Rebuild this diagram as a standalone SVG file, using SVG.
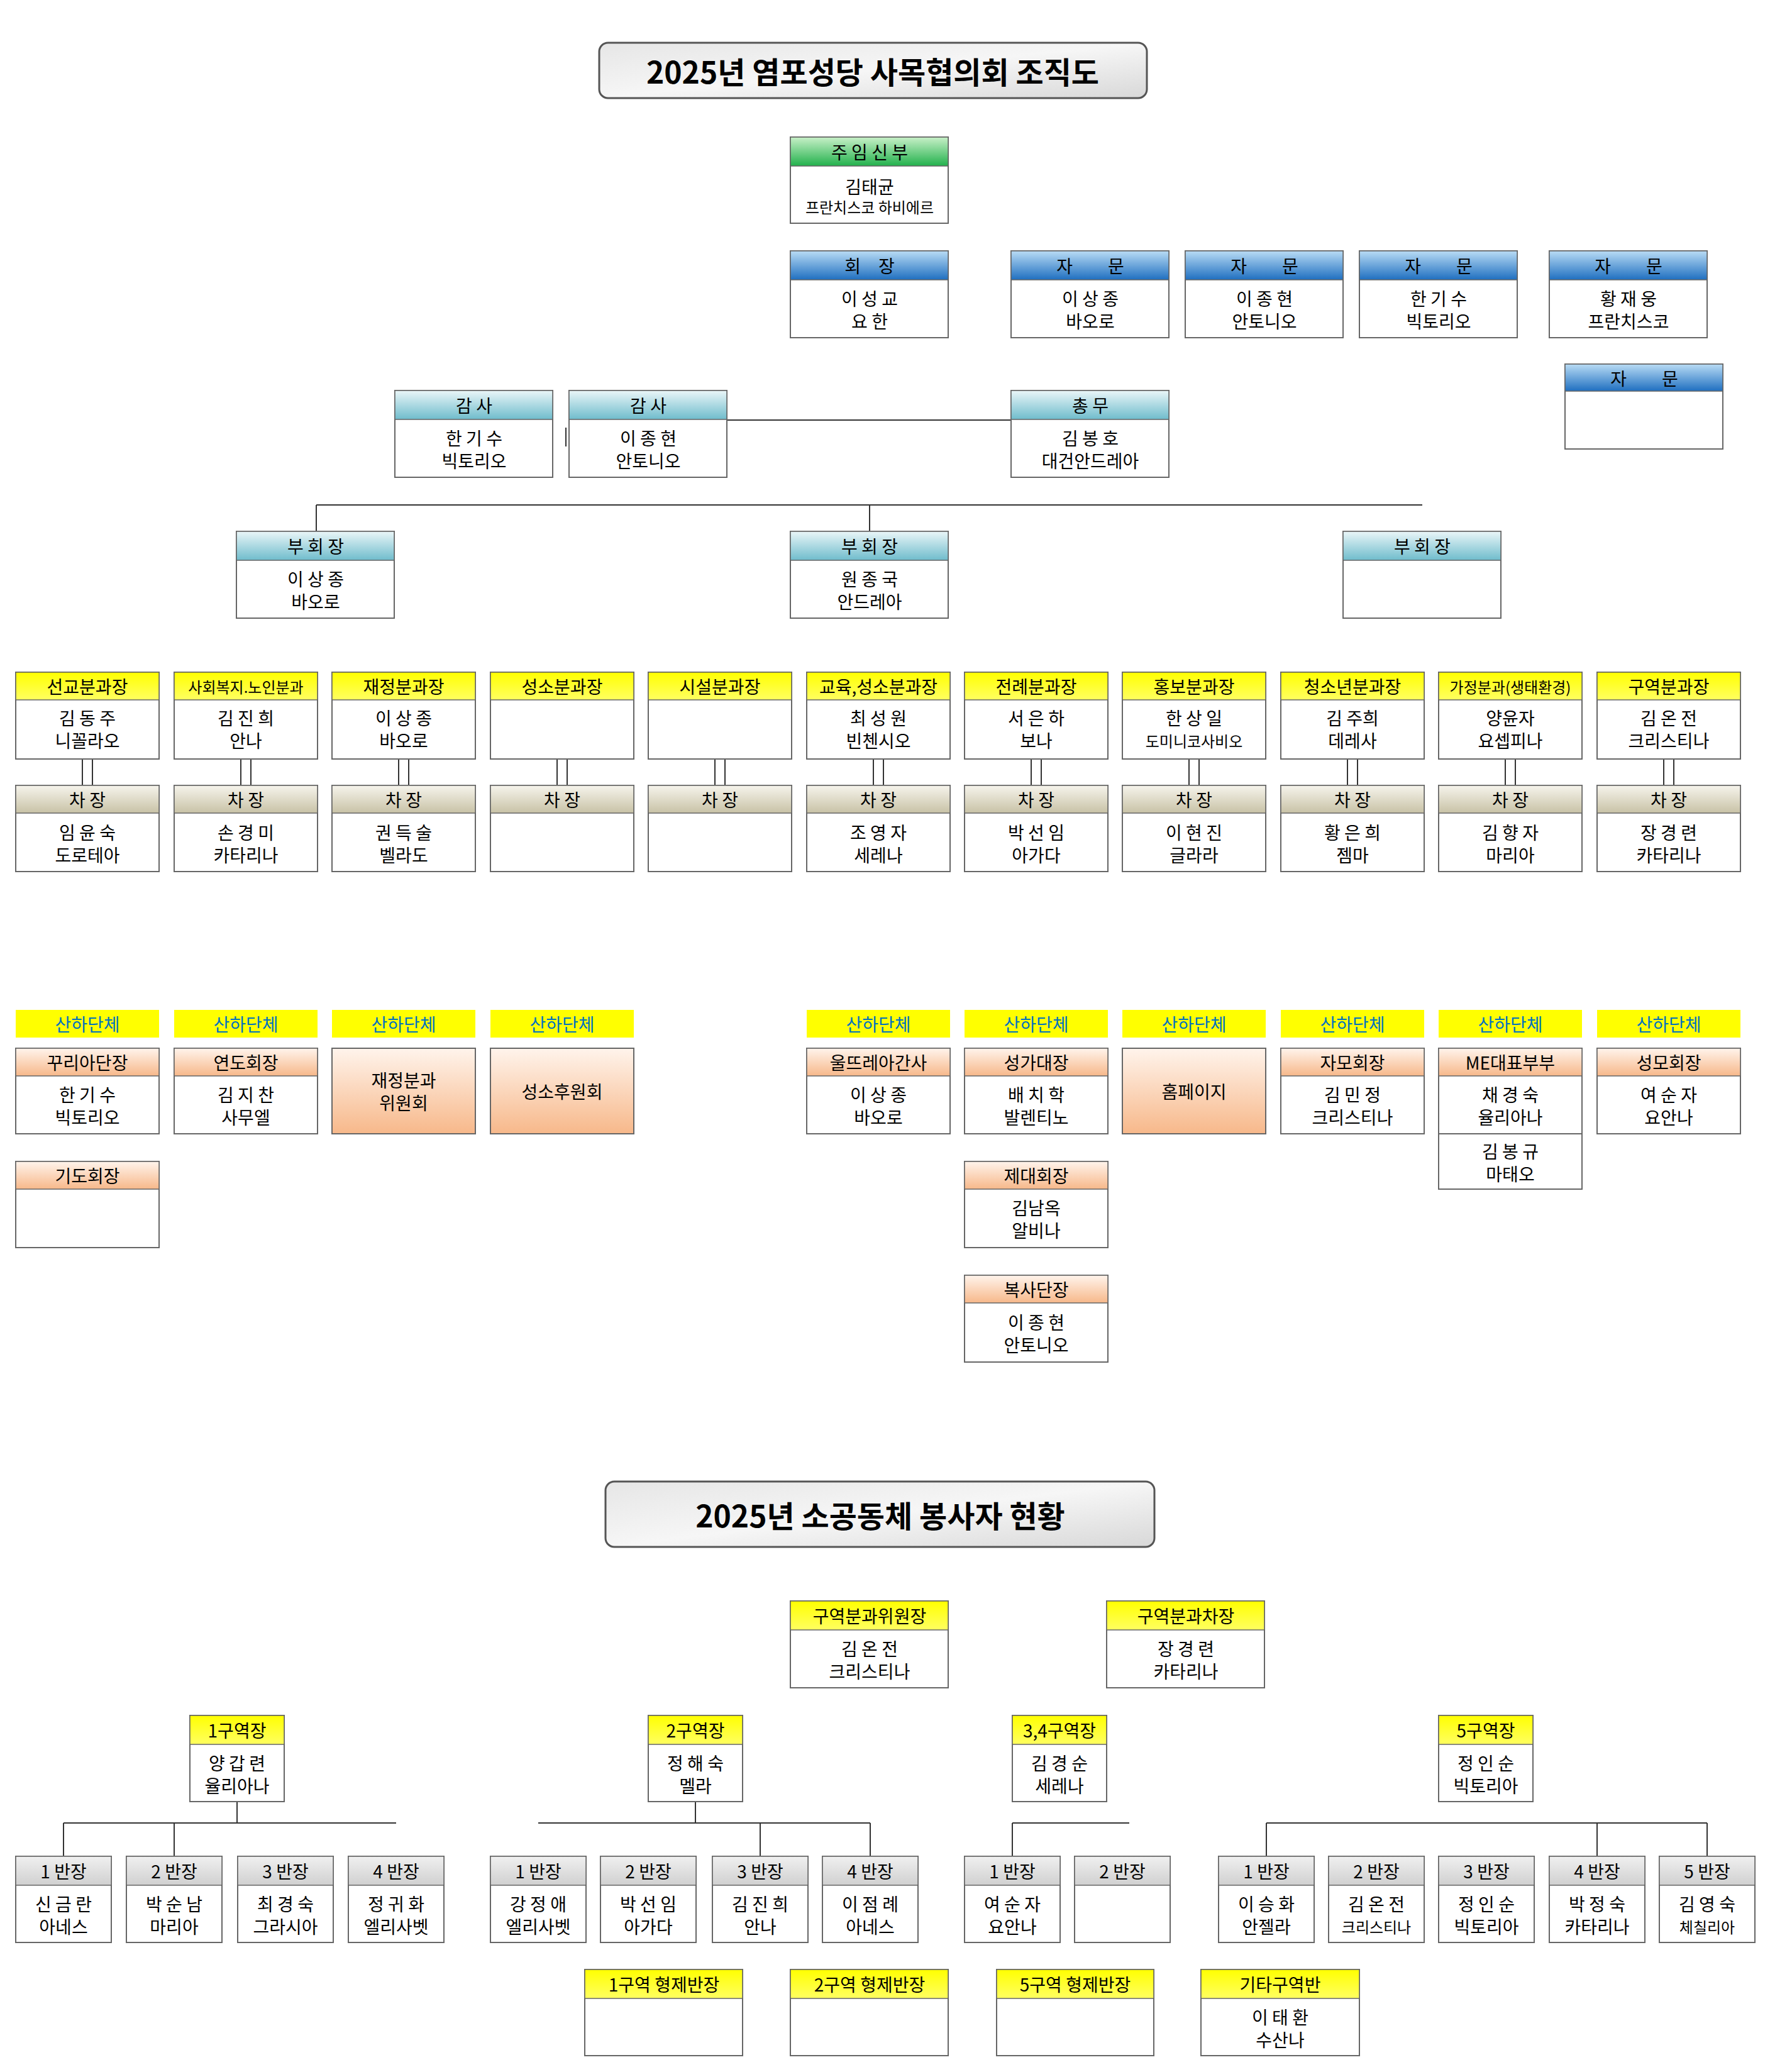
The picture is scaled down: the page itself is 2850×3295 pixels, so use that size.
<svg xmlns="http://www.w3.org/2000/svg" width="2850" height="3295" viewBox="0 0 2850 3295">
<defs>
<linearGradient id="gG" x1="0" y1="0" x2="0" y2="1"><stop offset="0" stop-color="#c8f0c8"/><stop offset="1" stop-color="#22b14c"/></linearGradient>
<linearGradient id="gB" x1="0" y1="0" x2="0" y2="1"><stop offset="0" stop-color="#b9dcf5"/><stop offset="1" stop-color="#1f6fc0"/></linearGradient>
<linearGradient id="gT" x1="0" y1="0" x2="0" y2="1"><stop offset="0" stop-color="#eaf6f8"/><stop offset="1" stop-color="#6fbccc"/></linearGradient>
<linearGradient id="gY" x1="0" y1="0" x2="0" y2="1"><stop offset="0" stop-color="#ffff00"/><stop offset="1" stop-color="#ffff60"/></linearGradient>
<linearGradient id="gS" x1="0" y1="0" x2="0" y2="1"><stop offset="0" stop-color="#f6f4ec"/><stop offset="1" stop-color="#c8c2a6"/></linearGradient>
<linearGradient id="gP" x1="0" y1="0" x2="0" y2="1"><stop offset="0" stop-color="#fff4ec"/><stop offset="1" stop-color="#f7b88a"/></linearGradient>
<linearGradient id="gR" x1="0" y1="0" x2="0" y2="1"><stop offset="0" stop-color="#f0f0f0"/><stop offset="1" stop-color="#d0d0d0"/></linearGradient>
<linearGradient id="gTi" x1="0" y1="0" x2="1" y2="1"><stop offset="0" stop-color="#e6e6e6"/><stop offset="0.5" stop-color="#f6f6f6"/><stop offset="1" stop-color="#d8d8d8"/></linearGradient>
</defs>
<style>
text{font-family:"Noto Sans CJK KR","Noto Sans",sans-serif;font-size:28px;text-anchor:middle;dominant-baseline:central;fill:#000}
.b{fill:#fff;stroke:#666;stroke-width:2}
.h{stroke:#666;stroke-width:1.5}
.sm{font-size:24px}
.ti{font-size:48px;font-weight:bold}
.lab{fill:#0070c0}
.c{stroke:#333;stroke-width:2;fill:none}
</style>
<g id="title1"><rect x="953" y="68" width="871" height="88" rx="14" fill="url(#gTi)" stroke="#555" stroke-width="3"/><text class="ti" x="1388" y="112">2025년 염포성당 사목협의회 조직도</text></g>
<g id="title2"><rect x="963" y="2356" width="873" height="104" rx="14" fill="url(#gTi)" stroke="#555" stroke-width="3"/><text class="ti" x="1400" y="2408">2025년 소공동체 봉사자 현황</text></g>

<g id="connectors">
<path class="c" d="M1157 668H1610"/>
<path class="c" d="M900 680V710"/>
<path class="c" d="M503 803H2262M503 803V845M1383 803V845"/>
<g id="dbl">
<path class="c" d="M131 1207V1249M147 1207V1249M383 1207V1249M399 1207V1249M634 1207V1249M650 1207V1249M886 1207V1249M902 1207V1249M1137 1207V1249M1153 1207V1249M1389 1207V1249M1405 1207V1249M1640 1207V1249M1656 1207V1249M1891 1207V1249M1907 1207V1249M2143 1207V1249M2159 1207V1249M2394 1207V1249M2410 1207V1249M2646 1207V1249M2662 1207V1249"/>
</g>
<path class="c" d="M377 2865V2899M101 2899H630M101 2899V2952M277 2899V2952"/>
<path class="c" d="M1106 2865V2899M856 2899H1384M1209 2899V2952M1384 2899V2952"/>
<path class="c" d="M1610 2899H1796M1610 2899V2952"/>
<path class="c" d="M2014 2899H2715M2014 2899V2952M2540 2899V2952M2715 2899V2952"/>
</g>

<g id="n-priest"><rect class="b" x="1257" y="218" width="251" height="137"/><rect class="h" x="1257" y="218" width="251" height="46" fill="url(#gG)"/><text x="1383" y="241">주 임 신 부</text><text x="1383" y="296">김태균</text><text class="sm" x="1383" y="328">프란치스코 하비에르</text></g>
<g id="n-pres"><rect class="b" x="1257" y="399" width="251" height="138"/><rect class="h" x="1257" y="399" width="251" height="46" fill="url(#gB)"/><text x="1383" y="422">회　장</text><text x="1383" y="474">이 성 교</text><text x="1383" y="510">요 한</text></g>
<g id="n-adv1"><rect class="b" x="1608" y="399" width="251" height="138"/><rect class="h" x="1608" y="399" width="251" height="46" fill="url(#gB)"/><text x="1734" y="422">자　　문</text><text x="1734" y="474">이 상 종</text><text x="1734" y="510">바오로</text></g>
<g id="n-adv2"><rect class="b" x="1885" y="399" width="251" height="138"/><rect class="h" x="1885" y="399" width="251" height="46" fill="url(#gB)"/><text x="2011" y="422">자　　문</text><text x="2011" y="474">이 종 현</text><text x="2011" y="510">안토니오</text></g>
<g id="n-adv3"><rect class="b" x="2162" y="399" width="251" height="138"/><rect class="h" x="2162" y="399" width="251" height="46" fill="url(#gB)"/><text x="2288" y="422">자　　문</text><text x="2288" y="474">한 기 수</text><text x="2288" y="510">빅토리오</text></g>
<g id="n-adv4"><rect class="b" x="2464" y="399" width="251" height="138"/><rect class="h" x="2464" y="399" width="251" height="46" fill="url(#gB)"/><text x="2590" y="422">자　　문</text><text x="2590" y="474">황 재 웅</text><text x="2590" y="510">프란치스코</text></g>
<g id="n-adv5"><rect class="b" x="2489" y="579" width="251" height="135"/><rect class="h" x="2489" y="579" width="251" height="43" fill="url(#gB)"/><text x="2615" y="601">자　　문</text></g>
<g id="n-aud1"><rect class="b" x="628" y="621" width="251" height="138"/><rect class="h" x="628" y="621" width="251" height="46" fill="url(#gT)"/><text x="754" y="644">감 사</text><text x="754" y="696">한 기 수</text><text x="754" y="732">빅토리오</text></g>
<g id="n-aud2"><rect class="b" x="905" y="621" width="251" height="138"/><rect class="h" x="905" y="621" width="251" height="46" fill="url(#gT)"/><text x="1031" y="644">감 사</text><text x="1031" y="696">이 종 현</text><text x="1031" y="732">안토니오</text></g>
<g id="n-gen"><rect class="b" x="1608" y="621" width="251" height="138"/><rect class="h" x="1608" y="621" width="251" height="46" fill="url(#gT)"/><text x="1734" y="644">총 무</text><text x="1734" y="696">김 봉 호</text><text x="1734" y="732">대건안드레아</text></g>
<g id="n-vp1"><rect class="b" x="376" y="845" width="251" height="138"/><rect class="h" x="376" y="845" width="251" height="46" fill="url(#gT)"/><text x="502" y="868">부 회 장</text><text x="502" y="920">이 상 종</text><text x="502" y="956">바오로</text></g>
<g id="n-vp2"><rect class="b" x="1257" y="845" width="251" height="138"/><rect class="h" x="1257" y="845" width="251" height="46" fill="url(#gT)"/><text x="1383" y="868">부 회 장</text><text x="1383" y="920">원 종 국</text><text x="1383" y="956">안드레아</text></g>
<g id="n-vp3"><rect class="b" x="2136" y="845" width="251" height="138"/><rect class="h" x="2136" y="845" width="251" height="46" fill="url(#gT)"/><text x="2262" y="868">부 회 장</text></g>

<g id="n-d1"><rect class="b" x="25" y="1069" width="228" height="138"/><rect class="h" x="25" y="1069" width="228" height="44" fill="url(#gY)"/><text x="139" y="1091">선교분과장</text><text x="139" y="1141">김 동 주</text><text x="139" y="1177">니꼴라오</text></g>
<g id="n-d2"><rect class="b" x="277" y="1069" width="228" height="138"/><rect class="h" x="277" y="1069" width="228" height="44" fill="url(#gY)"/><text class="sm" x="391" y="1091">사회복지.노인분과</text><text x="391" y="1141">김 진 희</text><text x="391" y="1177">안나</text></g>
<g id="n-d3"><rect class="b" x="528" y="1069" width="228" height="138"/><rect class="h" x="528" y="1069" width="228" height="44" fill="url(#gY)"/><text x="642" y="1091">재정분과장</text><text x="642" y="1141">이 상 종</text><text x="642" y="1177">바오로</text></g>
<g id="n-d4"><rect class="b" x="780" y="1069" width="228" height="138"/><rect class="h" x="780" y="1069" width="228" height="44" fill="url(#gY)"/><text x="894" y="1091">성소분과장</text></g>
<g id="n-d5"><rect class="b" x="1031" y="1069" width="228" height="138"/><rect class="h" x="1031" y="1069" width="228" height="44" fill="url(#gY)"/><text x="1145" y="1091">시설분과장</text></g>
<g id="n-d6"><rect class="b" x="1283" y="1069" width="228" height="138"/><rect class="h" x="1283" y="1069" width="228" height="44" fill="url(#gY)"/><text x="1397" y="1091">교육,성소분과장</text><text x="1397" y="1141">최 성 원</text><text x="1397" y="1177">빈첸시오</text></g>
<g id="n-d7"><rect class="b" x="1534" y="1069" width="228" height="138"/><rect class="h" x="1534" y="1069" width="228" height="44" fill="url(#gY)"/><text x="1648" y="1091">전례분과장</text><text x="1648" y="1141">서 은 하</text><text x="1648" y="1177">보나</text></g>
<g id="n-d8"><rect class="b" x="1785" y="1069" width="228" height="138"/><rect class="h" x="1785" y="1069" width="228" height="44" fill="url(#gY)"/><text x="1899" y="1091">홍보분과장</text><text x="1899" y="1141">한 상 일</text><text class="sm" x="1899" y="1177">도미니코사비오</text></g>
<g id="n-d9"><rect class="b" x="2037" y="1069" width="228" height="138"/><rect class="h" x="2037" y="1069" width="228" height="44" fill="url(#gY)"/><text x="2151" y="1091">청소년분과장</text><text x="2151" y="1141">김 주희</text><text x="2151" y="1177">데레사</text></g>
<g id="n-d10"><rect class="b" x="2288" y="1069" width="228" height="138"/><rect class="h" x="2288" y="1069" width="228" height="44" fill="url(#gY)"/><text class="sm" x="2402" y="1091">가정분과(생태환경)</text><text x="2402" y="1141">양윤자</text><text x="2402" y="1177">요셉피나</text></g>
<g id="n-d11"><rect class="b" x="2540" y="1069" width="228" height="138"/><rect class="h" x="2540" y="1069" width="228" height="44" fill="url(#gY)"/><text x="2654" y="1091">구역분과장</text><text x="2654" y="1141">김 온 전</text><text x="2654" y="1177">크리스티나</text></g>

<g id="n-v1"><rect class="b" x="25" y="1249" width="228" height="137"/><rect class="h" x="25" y="1249" width="228" height="44" fill="url(#gS)"/><text x="139" y="1271">차 장</text><text x="139" y="1323">임 윤 숙</text><text x="139" y="1359">도로테아</text></g>
<g id="n-v2"><rect class="b" x="277" y="1249" width="228" height="137"/><rect class="h" x="277" y="1249" width="228" height="44" fill="url(#gS)"/><text x="391" y="1271">차 장</text><text x="391" y="1323">손 경 미</text><text x="391" y="1359">카타리나</text></g>
<g id="n-v3"><rect class="b" x="528" y="1249" width="228" height="137"/><rect class="h" x="528" y="1249" width="228" height="44" fill="url(#gS)"/><text x="642" y="1271">차 장</text><text x="642" y="1323">권 득 술</text><text x="642" y="1359">벨라도</text></g>
<g id="n-v4"><rect class="b" x="780" y="1249" width="228" height="137"/><rect class="h" x="780" y="1249" width="228" height="44" fill="url(#gS)"/><text x="894" y="1271">차 장</text></g>
<g id="n-v5"><rect class="b" x="1031" y="1249" width="228" height="137"/><rect class="h" x="1031" y="1249" width="228" height="44" fill="url(#gS)"/><text x="1145" y="1271">차 장</text></g>
<g id="n-v6"><rect class="b" x="1283" y="1249" width="228" height="137"/><rect class="h" x="1283" y="1249" width="228" height="44" fill="url(#gS)"/><text x="1397" y="1271">차 장</text><text x="1397" y="1323">조 영 자</text><text x="1397" y="1359">세레나</text></g>
<g id="n-v7"><rect class="b" x="1534" y="1249" width="228" height="137"/><rect class="h" x="1534" y="1249" width="228" height="44" fill="url(#gS)"/><text x="1648" y="1271">차 장</text><text x="1648" y="1323">박 선 임</text><text x="1648" y="1359">아가다</text></g>
<g id="n-v8"><rect class="b" x="1785" y="1249" width="228" height="137"/><rect class="h" x="1785" y="1249" width="228" height="44" fill="url(#gS)"/><text x="1899" y="1271">차 장</text><text x="1899" y="1323">이 현 진</text><text x="1899" y="1359">글라라</text></g>
<g id="n-v9"><rect class="b" x="2037" y="1249" width="228" height="137"/><rect class="h" x="2037" y="1249" width="228" height="44" fill="url(#gS)"/><text x="2151" y="1271">차 장</text><text x="2151" y="1323">황 은 희</text><text x="2151" y="1359">젬마</text></g>
<g id="n-v10"><rect class="b" x="2288" y="1249" width="228" height="137"/><rect class="h" x="2288" y="1249" width="228" height="44" fill="url(#gS)"/><text x="2402" y="1271">차 장</text><text x="2402" y="1323">김 향 자</text><text x="2402" y="1359">마리아</text></g>
<g id="n-v11"><rect class="b" x="2540" y="1249" width="228" height="137"/><rect class="h" x="2540" y="1249" width="228" height="44" fill="url(#gS)"/><text x="2654" y="1271">차 장</text><text x="2654" y="1323">장 경 련</text><text x="2654" y="1359">카타리나</text></g>

<g id="labels">
<rect x="25" y="1606" width="228" height="44" fill="#ffff00"/><text class="lab" x="139" y="1628">산하단체</text>
<rect x="277" y="1606" width="228" height="44" fill="#ffff00"/><text class="lab" x="391" y="1628">산하단체</text>
<rect x="528" y="1606" width="228" height="44" fill="#ffff00"/><text class="lab" x="642" y="1628">산하단체</text>
<rect x="780" y="1606" width="228" height="44" fill="#ffff00"/><text class="lab" x="894" y="1628">산하단체</text>
<rect x="1283" y="1606" width="228" height="44" fill="#ffff00"/><text class="lab" x="1397" y="1628">산하단체</text>
<rect x="1534" y="1606" width="228" height="44" fill="#ffff00"/><text class="lab" x="1648" y="1628">산하단체</text>
<rect x="1785" y="1606" width="228" height="44" fill="#ffff00"/><text class="lab" x="1899" y="1628">산하단체</text>
<rect x="2037" y="1606" width="228" height="44" fill="#ffff00"/><text class="lab" x="2151" y="1628">산하단체</text>
<rect x="2288" y="1606" width="228" height="44" fill="#ffff00"/><text class="lab" x="2402" y="1628">산하단체</text>
<rect x="2540" y="1606" width="228" height="44" fill="#ffff00"/><text class="lab" x="2654" y="1628">산하단체</text>
</g>

<g id="n-s1"><rect class="b" x="25" y="1667" width="228" height="136"/><rect class="h" x="25" y="1667" width="228" height="44" fill="url(#gP)"/><text x="139" y="1689">꾸리아단장</text><text x="139" y="1740">한 기 수</text><text x="139" y="1776">빅토리오</text></g>
<g id="n-s2"><rect class="b" x="277" y="1667" width="228" height="136"/><rect class="h" x="277" y="1667" width="228" height="44" fill="url(#gP)"/><text x="391" y="1689">연도회장</text><text x="391" y="1740">김 지 찬</text><text x="391" y="1776">사무엘</text></g>
<g id="n-s3"><rect class="b" x="528" y="1667" width="228" height="136" fill="url(#gP)" style="fill:url(#gP)"/><text x="642" y="1717">재정분과</text><text x="642" y="1753">위원회</text></g>
<g id="n-s4"><rect class="b" x="780" y="1667" width="228" height="136" style="fill:url(#gP)"/><text x="894" y="1735">성소후원회</text></g>
<g id="n-s6"><rect class="b" x="1283" y="1667" width="228" height="136"/><rect class="h" x="1283" y="1667" width="228" height="44" fill="url(#gP)"/><text x="1397" y="1689">울뜨레아간사</text><text x="1397" y="1740">이 상 종</text><text x="1397" y="1776">바오로</text></g>
<g id="n-s7"><rect class="b" x="1534" y="1667" width="228" height="136"/><rect class="h" x="1534" y="1667" width="228" height="44" fill="url(#gP)"/><text x="1648" y="1689">성가대장</text><text x="1648" y="1740">배 치 학</text><text x="1648" y="1776">발렌티노</text></g>
<g id="n-s8"><rect class="b" x="1785" y="1667" width="228" height="136" style="fill:url(#gP)"/><text x="1899" y="1735">홈페이지</text></g>
<g id="n-s9"><rect class="b" x="2037" y="1667" width="228" height="136"/><rect class="h" x="2037" y="1667" width="228" height="44" fill="url(#gP)"/><text x="2151" y="1689">자모회장</text><text x="2151" y="1740">김 민 정</text><text x="2151" y="1776">크리스티나</text></g>
<g id="n-s10"><rect class="b" x="2288" y="1667" width="228" height="136"/><rect class="h" x="2288" y="1667" width="228" height="44" fill="url(#gP)"/><text x="2402" y="1689">ME대표부부</text><text x="2402" y="1740">채 경 숙</text><text x="2402" y="1776">율리아나</text></g>
<g id="n-s10b"><rect class="b" x="2288" y="1803" width="228" height="88"/><text x="2402" y="1830">김 봉 규</text><text x="2402" y="1866">마태오</text></g>
<g id="n-s11"><rect class="b" x="2540" y="1667" width="228" height="136"/><rect class="h" x="2540" y="1667" width="228" height="44" fill="url(#gP)"/><text x="2654" y="1689">성모회장</text><text x="2654" y="1740">여 순 자</text><text x="2654" y="1776">요안나</text></g>
<g id="n-s1b"><rect class="b" x="25" y="1847" width="228" height="137"/><rect class="h" x="25" y="1847" width="228" height="44" fill="url(#gP)"/><text x="139" y="1869">기도회장</text></g>
<g id="n-s7b"><rect class="b" x="1534" y="1847" width="228" height="137"/><rect class="h" x="1534" y="1847" width="228" height="44" fill="url(#gP)"/><text x="1648" y="1869">제대회장</text><text x="1648" y="1920">김남옥</text><text x="1648" y="1956">알비나</text></g>
<g id="n-s7c"><rect class="b" x="1534" y="2028" width="228" height="138"/><rect class="h" x="1534" y="2028" width="228" height="44" fill="url(#gP)"/><text x="1648" y="2050">복사단장</text><text x="1648" y="2102">이 종 현</text><text x="1648" y="2138">안토니오</text></g>

<g id="n-zc"><rect class="b" x="1257" y="2546" width="251" height="138"/><rect class="h" x="1257" y="2546" width="251" height="46" fill="url(#gY)"/><text x="1383" y="2569">구역분과위원장</text><text x="1383" y="2621">김 온 전</text><text x="1383" y="2657">크리스티나</text></g>
<g id="n-zv"><rect class="b" x="1760" y="2546" width="251" height="138"/><rect class="h" x="1760" y="2546" width="251" height="46" fill="url(#gY)"/><text x="1886" y="2569">구역분과차장</text><text x="1886" y="2621">장 경 련</text><text x="1886" y="2657">카타리나</text></g>
<g id="n-z1"><rect class="b" x="302" y="2728" width="150" height="137"/><rect class="h" x="302" y="2728" width="150" height="46" fill="url(#gY)"/><text x="377" y="2751">1구역장</text><text x="377" y="2803">양 갑 련</text><text x="377" y="2839">율리아나</text></g>
<g id="n-z2"><rect class="b" x="1031" y="2728" width="150" height="137"/><rect class="h" x="1031" y="2728" width="150" height="46" fill="url(#gY)"/><text x="1106" y="2751">2구역장</text><text x="1106" y="2803">정 해 숙</text><text x="1106" y="2839">멜라</text></g>
<g id="n-z34"><rect class="b" x="1610" y="2728" width="150" height="137"/><rect class="h" x="1610" y="2728" width="150" height="46" fill="url(#gY)"/><text x="1685" y="2751">3,4구역장</text><text x="1685" y="2803">김 경 순</text><text x="1685" y="2839">세레나</text></g>
<g id="n-z5"><rect class="b" x="2288" y="2728" width="150" height="137"/><rect class="h" x="2288" y="2728" width="150" height="46" fill="url(#gY)"/><text x="2363" y="2751">5구역장</text><text x="2363" y="2803">정 인 순</text><text x="2363" y="2839">빅토리아</text></g>

<g id="n-b1-1"><rect class="b" x="25" y="2952" width="152" height="137"/><rect class="h" x="25" y="2952" width="152" height="46" fill="url(#gR)"/><text x="101" y="2975">1 반장</text><text x="101" y="3027">신 금 란</text><text x="101" y="3063">아네스</text></g>
<g id="n-b1-2"><rect class="b" x="201" y="2952" width="152" height="137"/><rect class="h" x="201" y="2952" width="152" height="46" fill="url(#gR)"/><text x="277" y="2975">2 반장</text><text x="277" y="3027">박 순 남</text><text x="277" y="3063">마리아</text></g>
<g id="n-b1-3"><rect class="b" x="378" y="2952" width="152" height="137"/><rect class="h" x="378" y="2952" width="152" height="46" fill="url(#gR)"/><text x="454" y="2975">3 반장</text><text x="454" y="3027">최 경 숙</text><text x="454" y="3063">그라시아</text></g>
<g id="n-b1-4"><rect class="b" x="554" y="2952" width="152" height="137"/><rect class="h" x="554" y="2952" width="152" height="46" fill="url(#gR)"/><text x="630" y="2975">4 반장</text><text x="630" y="3027">정 귀 화</text><text x="630" y="3063">엘리사벳</text></g>
<g id="n-b2-1"><rect class="b" x="780" y="2952" width="152" height="137"/><rect class="h" x="780" y="2952" width="152" height="46" fill="url(#gR)"/><text x="856" y="2975">1 반장</text><text x="856" y="3027">강 정 애</text><text x="856" y="3063">엘리사벳</text></g>
<g id="n-b2-2"><rect class="b" x="955" y="2952" width="152" height="137"/><rect class="h" x="955" y="2952" width="152" height="46" fill="url(#gR)"/><text x="1031" y="2975">2 반장</text><text x="1031" y="3027">박 선 임</text><text x="1031" y="3063">아가다</text></g>
<g id="n-b2-3"><rect class="b" x="1133" y="2952" width="152" height="137"/><rect class="h" x="1133" y="2952" width="152" height="46" fill="url(#gR)"/><text x="1209" y="2975">3 반장</text><text x="1209" y="3027">김 진 희</text><text x="1209" y="3063">안나</text></g>
<g id="n-b2-4"><rect class="b" x="1308" y="2952" width="152" height="137"/><rect class="h" x="1308" y="2952" width="152" height="46" fill="url(#gR)"/><text x="1384" y="2975">4 반장</text><text x="1384" y="3027">이 점 례</text><text x="1384" y="3063">아네스</text></g>
<g id="n-b3-1"><rect class="b" x="1534" y="2952" width="152" height="137"/><rect class="h" x="1534" y="2952" width="152" height="46" fill="url(#gR)"/><text x="1610" y="2975">1 반장</text><text x="1610" y="3027">여 순 자</text><text x="1610" y="3063">요안나</text></g>
<g id="n-b3-2"><rect class="b" x="1709" y="2952" width="152" height="137"/><rect class="h" x="1709" y="2952" width="152" height="46" fill="url(#gR)"/><text x="1785" y="2975">2 반장</text></g>
<g id="n-b5-1"><rect class="b" x="1938" y="2952" width="152" height="137"/><rect class="h" x="1938" y="2952" width="152" height="46" fill="url(#gR)"/><text x="2014" y="2975">1 반장</text><text x="2014" y="3027">이 승 화</text><text x="2014" y="3063">안젤라</text></g>
<g id="n-b5-2"><rect class="b" x="2113" y="2952" width="152" height="137"/><rect class="h" x="2113" y="2952" width="152" height="46" fill="url(#gR)"/><text x="2189" y="2975">2 반장</text><text x="2189" y="3027">김 온 전</text><text class="sm" x="2189" y="3063">크리스티나</text></g>
<g id="n-b5-3"><rect class="b" x="2288" y="2952" width="152" height="137"/><rect class="h" x="2288" y="2952" width="152" height="46" fill="url(#gR)"/><text x="2364" y="2975">3 반장</text><text x="2364" y="3027">정 인 순</text><text x="2364" y="3063">빅토리아</text></g>
<g id="n-b5-4"><rect class="b" x="2464" y="2952" width="152" height="137"/><rect class="h" x="2464" y="2952" width="152" height="46" fill="url(#gR)"/><text x="2540" y="2975">4 반장</text><text x="2540" y="3027">박 정 숙</text><text x="2540" y="3063">카타리나</text></g>
<g id="n-b5-5"><rect class="b" x="2639" y="2952" width="152" height="137"/><rect class="h" x="2639" y="2952" width="152" height="46" fill="url(#gR)"/><text x="2715" y="2975">5 반장</text><text x="2715" y="3027">김 영 숙</text><text class="sm" x="2715" y="3063">체칠리아</text></g>

<g id="n-m1"><rect class="b" x="930" y="3132" width="251" height="137"/><rect class="h" x="930" y="3132" width="251" height="46" fill="url(#gY)"/><text x="1056" y="3155">1구역 형제반장</text></g>
<g id="n-m2"><rect class="b" x="1257" y="3132" width="251" height="137"/><rect class="h" x="1257" y="3132" width="251" height="46" fill="url(#gY)"/><text x="1383" y="3155">2구역 형제반장</text></g>
<g id="n-m5"><rect class="b" x="1585" y="3132" width="250" height="137"/><rect class="h" x="1585" y="3132" width="250" height="46" fill="url(#gY)"/><text x="1710" y="3155">5구역 형제반장</text></g>
<g id="n-etc"><rect class="b" x="1910" y="3132" width="252" height="137"/><rect class="h" x="1910" y="3132" width="252" height="46" fill="url(#gY)"/><text x="2036" y="3155">기타구역반</text><text x="2036" y="3207">이 태 환</text><text x="2036" y="3243">수산나</text></g>
</svg>
